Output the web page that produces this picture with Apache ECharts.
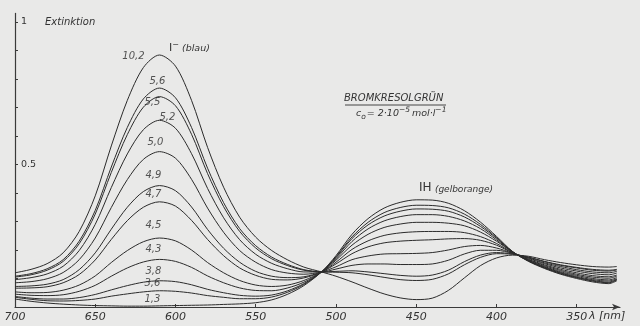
<!DOCTYPE html>
<html>
<head>
<meta charset="utf-8">
<script src="https://cdn.jsdelivr.net/npm/echarts@6/dist/echarts.min.js"></script>
<style>
  html, body { margin: 0; padding: 0; background: #e9e9e8; }
  #chart { width: 640px; height: 326px; }
</style>
</head>
<body>
<div id="chart"></div>
<script>
// Absorption spectra of bromocresol green at different pH values
const wavelengths = [700, 690, 680, 670, 660, 650, 640, 630, 620, 610, 600, 590, 580, 570, 560, 550, 540, 530, 520, 509,
                     500, 490, 480, 470, 460, 450, 440, 430, 420, 410, 400, 390, 380, 370, 360, 350, 340, 330, 325];

const pH102 = [0.120,0.132,0.152,0.190,0.265,0.390,0.565,0.725,0.840,0.884,0.845,0.725,0.560,0.420,0.315,0.245,0.198,0.165,0.140,0.123,
               0.108,0.088,0.066,0.046,0.032,0.026,0.031,0.058,0.102,0.145,0.172,0.182,0.178,0.166,0.156,0.148,0.142,0.140,0.142];
const pH56  = [0.108,0.117,0.134,0.166,0.231,0.339,0.491,0.630,0.730,0.768,0.734,0.630,0.487,0.366,0.275,0.215,0.175,0.149,0.131,0.123,
               0.122,0.120,0.113,0.104,0.096,0.093,0.097,0.116,0.148,0.174,0.187,0.185,0.175,0.160,0.148,0.139,0.132,0.129,0.132];
const pH55  = [0.105,0.113,0.129,0.160,0.222,0.326,0.472,0.605,0.701,0.738,0.706,0.606,0.468,0.352,0.265,0.207,0.169,0.145,0.129,0.123,
               0.125,0.127,0.123,0.117,0.111,0.108,0.112,0.129,0.159,0.182,0.191,0.186,0.174,0.159,0.146,0.137,0.129,0.126,0.130];
const pH52  = [0.096,0.103,0.116,0.143,0.198,0.290,0.419,0.537,0.622,0.655,0.627,0.538,0.416,0.313,0.236,0.185,0.153,0.134,0.123,0.123,
               0.133,0.146,0.151,0.151,0.149,0.149,0.151,0.164,0.186,0.199,0.199,0.188,0.172,0.155,0.142,0.131,0.123,0.120,0.125];
const pH50  = [0.085,0.089,0.099,0.121,0.166,0.242,0.349,0.447,0.518,0.545,0.522,0.448,0.347,0.262,0.198,0.157,0.131,0.119,0.115,0.123,
               0.141,0.166,0.179,0.186,0.187,0.188,0.191,0.200,0.212,0.216,0.207,0.189,0.170,0.152,0.137,0.126,0.117,0.113,0.119];
const pH49  = [0.072,0.074,0.080,0.096,0.131,0.190,0.273,0.350,0.405,0.426,0.408,0.351,0.272,0.206,0.157,0.125,0.108,0.103,0.106,0.123,
               0.151,0.187,0.211,0.225,0.231,0.234,0.236,0.239,0.240,0.234,0.217,0.190,0.167,0.148,0.132,0.120,0.110,0.106,0.112];
const pH47  = [0.066,0.067,0.071,0.085,0.114,0.165,0.237,0.303,0.350,0.369,0.354,0.304,0.237,0.180,0.137,0.111,0.097,0.095,0.102,0.123,
               0.157,0.202,0.232,0.251,0.260,0.264,0.265,0.265,0.261,0.247,0.223,0.191,0.166,0.145,0.128,0.115,0.105,0.101,0.108];
const pH45  = [0.053,0.050,0.051,0.059,0.077,0.109,0.156,0.198,0.229,0.242,0.232,0.200,0.156,0.120,0.093,0.077,0.072,0.077,0.093,0.123,
               0.164,0.217,0.255,0.279,0.291,0.297,0.297,0.294,0.285,0.263,0.231,0.193,0.164,0.142,0.124,0.111,0.100,0.095,0.103];
const pH43  = [0.045,0.041,0.040,0.043,0.055,0.076,0.108,0.137,0.158,0.167,0.160,0.139,0.109,0.085,0.067,0.058,0.057,0.067,0.087,0.123,
               0.169,0.230,0.274,0.302,0.317,0.324,0.324,0.318,0.302,0.275,0.236,0.193,0.163,0.140,0.121,0.107,0.096,0.091,0.099];
const pH38  = [0.037,0.031,0.028,0.028,0.033,0.044,0.060,0.075,0.087,0.092,0.089,0.078,0.062,0.050,0.041,0.038,0.042,0.057,0.082,0.123,
               0.173,0.240,0.288,0.319,0.336,0.344,0.343,0.336,0.316,0.283,0.241,0.194,0.162,0.138,0.119,0.104,0.093,0.087,0.097];
const pH36  = [0.034,0.027,0.022,0.021,0.023,0.028,0.038,0.046,0.053,0.057,0.055,0.049,0.040,0.034,0.029,0.029,0.035,0.052,0.079,0.123,
               0.176,0.246,0.297,0.331,0.349,0.357,0.356,0.348,0.326,0.290,0.244,0.194,0.161,0.137,0.117,0.103,0.091,0.085,0.095];
const pH13  = [0.028,0.020,0.014,0.010,0.007,0.005,0.004,0.003,0.003,0.004,0.005,0.006,0.007,0.009,0.011,0.015,0.025,0.045,0.075,0.123,
               0.180,0.255,0.310,0.347,0.367,0.376,0.375,0.364,0.338,0.298,0.248,0.195,0.160,0.135,0.115,0.100,0.088,0.082,0.092];

const curveNames = ['10,2', '5,6', '5,5', '5,2', '5,0', '4,9', '4,7', '4,5', '4,3', '3,8', '3,6', '1,3'];
const curves = [pH102, pH56, pH55, pH52, pH50, pH49, pH47, pH45, pH43, pH38, pH36, pH13];

const xTicks = [700, 650, 600, 550, 500, 450, 400, 350];
const yTicks = [0.1, 0.2, 0.3, 0.4, 0.5, 0.6, 0.7, 0.8, 0.9, 1.0];
const yLabels = [0.5, 1];

// index of the main absorption maximum, where the pH labels sit
const peakIndex = wavelengths.indexOf(610);
// pixel nudges for each pH label, relative to its curve's maximum
const labelNudge = [[-26, 1], [-2, -7], [-7, 6], [8, -3], [-4, -9], [-6, -10], [-6, -7], [-6, -13], [-6, -10], [-6, -9], [-7, -7], [-7, -6]];

const ink = '#2b2b2b';
const font = 'DejaVu Sans';

const lineSeries = curves.map((vals, i) => ({
  type: 'line',
  name: curveNames[i],
  data: wavelengths.map((w, j) => [w, vals[j]]),
  smooth: 0.3,
  showSymbol: false,
  silent: true,
  lineStyle: { color: ink, width: 1 },
  z: 2
}));

const labelSeries = {
  type: 'scatter',
  silent: true,
  symbolSize: 0,
  data: curves.map((vals, i) => ({
    value: [wavelengths[peakIndex], vals[peakIndex]],
    label: {
      show: true,
      position: 'inside',
      offset: labelNudge[i],
      formatter: curveNames[i],
      fontFamily: font,
      fontStyle: 'italic',
      fontSize: 10,
      color: ink
    }
  })),
  z: 3
};

const chart = echarts.init(document.getElementById('chart'), null, { renderer: 'canvas' });

chart.setOption({
  backgroundColor: '#e9e9e8',
  animation: false,
  grid: { left: 15, right: 20, top: 13.4, bottom: 19, containLabel: false },
  xAxis: {
    type: 'value',
    min: 323,
    max: 700,
    inverse: true,
    axisLine: {
      show: true,
      symbol: ['none', 'arrow'],
      symbolSize: [5, 8],
      lineStyle: { color: '#3a3a3a', width: 1.2 }
    },
    axisTick: { show: true, inside: true, length: 3, customValues: xTicks, lineStyle: { color: '#3a3a3a' } },
    axisLabel: {
      customValues: xTicks,
      margin: 5,
      fontFamily: font,
      fontStyle: 'italic',
      fontSize: 11,
      color: '#333'
    },
    splitLine: { show: false }
  },
  yAxis: {
    type: 'value',
    min: 0,
    max: 1.03,
    axisLine: { show: true, lineStyle: { color: '#3a3a3a', width: 1.2 } },
    axisTick: { show: true, inside: true, length: 3, customValues: yTicks, lineStyle: { color: '#3a3a3a' } },
    axisLabel: {
      inside: true,
      customValues: yLabels,
      margin: 6,
      fontFamily: font,
      fontSize: 9.5,
      color: '#333',
      formatter: v => (v === 1 ? '1' : String(v))
    },
    splitLine: { show: false }
  },
  series: [...lineSeries, labelSeries],
  graphic: [
    { type: 'text', left: 45, top: 17,
      style: { text: 'Extinktion', fontFamily: font, fontStyle: 'italic', fontSize: 10, fill: '#333' } },
    { type: 'text', left: 589, top: 311,
      style: { text: 'λ [nm]', fontFamily: font, fontStyle: 'italic', fontSize: 11, fill: '#333' } },
    { type: 'text', left: 344, top: 93,
      style: { text: 'BROMKRESOLGRÜN', fontFamily: font, fontStyle: 'italic', fontSize: 10, fill: '#333' } },
    { type: 'line', shape: { x1: 345, y1: 105, x2: 446, y2: 105 }, style: { stroke: '#444', lineWidth: 1 } },
    { type: 'text', left: 356, top: 106,
      style: {
        text: '{n|c}{b|o}{n|= 2·10}{p|−5}{n|mol·l}{p|−1}',
        fontFamily: font,
        rich: {
          n: { fontFamily: font, fontStyle: 'italic', fontSize: 9.5, fill: '#333', verticalAlign: 'bottom', lineHeight: 15, padding: [0, 0, 2, 0] },
          b: { fontFamily: font, fontStyle: 'italic', fontSize: 7.5, fill: '#333', verticalAlign: 'bottom', lineHeight: 15, padding: [0, 1, 0, 0] },
          p: { fontFamily: font, fontStyle: 'italic', fontSize: 7.5, fill: '#333', verticalAlign: 'top', lineHeight: 15, padding: [0, 2, 0, 0] }
        }
      } },
    { type: 'text', left: 169, top: 41,
      style: {
        text: '{u|I}{p|−}{i| (blau)}',
        rich: {
          u: { fontFamily: font, fontSize: 11, fill: '#333', verticalAlign: 'bottom', lineHeight: 13 },
          p: { fontFamily: font, fontSize: 8, fill: '#333', verticalAlign: 'top', lineHeight: 13 },
          i: { fontFamily: font, fontStyle: 'italic', fontSize: 9.5, fill: '#333', verticalAlign: 'bottom', lineHeight: 13 }
        }
      } },
    { type: 'text', left: 419, top: 181,
      style: {
        text: '{u|IH} {i|(gelborange)}',
        rich: {
          u: { fontFamily: font, fontSize: 12, fill: '#333', verticalAlign: 'bottom', lineHeight: 14 },
          i: { fontFamily: font, fontStyle: 'italic', fontSize: 9, fill: '#333', verticalAlign: 'bottom', lineHeight: 14 }
        }
      } }
  ]
});
</script>
</body>
</html>
